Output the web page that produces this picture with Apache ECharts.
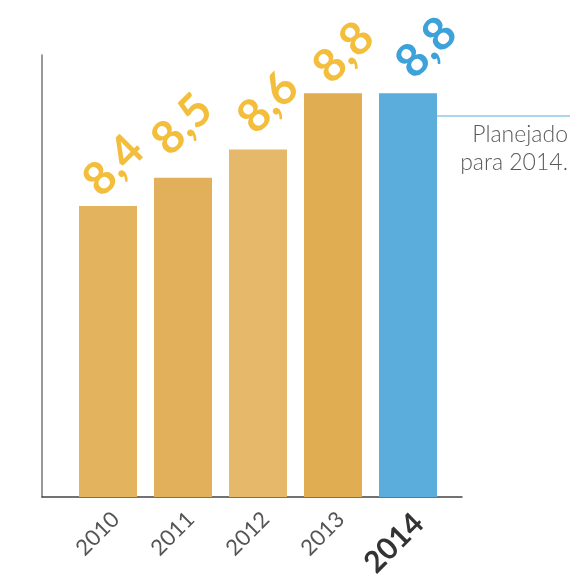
<!DOCTYPE html>
<html><head><meta charset="utf-8">
<script src="https://cdn.jsdelivr.net/npm/echarts@6/dist/echarts.min.js"></script>
<style>html,body{margin:0;padding:0;background:#fff}#c{width:570px;height:575px}</style>
</head><body><div id="c"></div>
<script>
const years = ['2010','2011','2012','2013','2014'];
const values = [8.4, 8.5, 8.6, 8.8, 8.8];
const valueLabels = ['8,4','8,5','8,6','8,8','8,8'];
const barColors = ['#E4B35E','#E2B05A','#E6B86A','#E1AD52','#5BAEDC'];
const labelColors = ['#F3BE3C','#F3BE3C','#F3BE3C','#F3BE3C','#3DA2DA'];
const labelOffsets = [[1.6,6.4],[6,-7],[9.1,5.2],[5,10],[14,12]];
const highlightYear = '2014';
const noteLines = ['Planejado','para 2014.'];

const yMin = 7.37, yMax = 8.935;
const chart = echarts.init(document.getElementById('c'));
chart.setOption({
  animation:false,
  grid:[
    {left:70.5, width:375, top:55, bottom:78, outerBoundsMode:'none', containLabel:false},
    {left:42, width:420, top:55, bottom:78, outerBoundsMode:'none', containLabel:false}
  ],
  xAxis:[
    {type:'category', gridIndex:0, data:years,
     axisLine:{show:false}, axisTick:{show:false},
     axisLabel:{rotate:45, margin:11, verticalAlign:'top', color:'#555', fontFamily:'Lato', fontSize:22,
       formatter:v => v===highlightYear ? '{b|'+v+'}' : v,
       rich:{b:{fontFamily:'Lato', fontWeight:'bold', fontSize:30, color:'#333'}}}},
    {type:'value', gridIndex:1, min:0, max:1, splitLine:{show:false},
     axisLabel:{show:false}, axisTick:{show:false},
     axisLine:{show:true, lineStyle:{color:'#444', width:1.5}}}
  ],
  yAxis:[
    {type:'value', gridIndex:0, min:yMin, max:yMax, show:false},
    {type:'value', gridIndex:1, min:yMin, max:yMax, splitLine:{show:false},
     axisLabel:{show:false}, axisTick:{show:false},
     axisLine:{show:true, lineStyle:{color:'#777', width:1.5}}}
  ],
  series:[{
    type:'bar', xAxisIndex:0, yAxisIndex:0, barWidth:58,
    data: values.map((v,i)=>({value:v,
      itemStyle:{color:barColors[i]},
      label:{formatter:valueLabels[i], color:labelColors[i], offset:labelOffsets[i]}})),
    label:{show:true, position:'top', distance:44, rotate:45, align:'center', verticalAlign:'middle',
      fontFamily:'Lato', fontWeight:'bold', fontSize:46}
  }],
  graphic:[
    {type:'line', shape:{x1:430, y1:116, x2:570, y2:116}, style:{stroke:'#5AAEDB', lineWidth:1.2}},
    {type:'text', x:568, y:135, style:{text:noteLines[0], fill:'#5a5a5a', font:'300 23px Lato', textAlign:'right', textVerticalAlign:'middle'}},
    {type:'text', x:568, y:163, style:{text:noteLines[1], fill:'#5a5a5a', font:'300 23px Lato', textAlign:'right', textVerticalAlign:'middle'}}
  ]
});
</script></body></html>
